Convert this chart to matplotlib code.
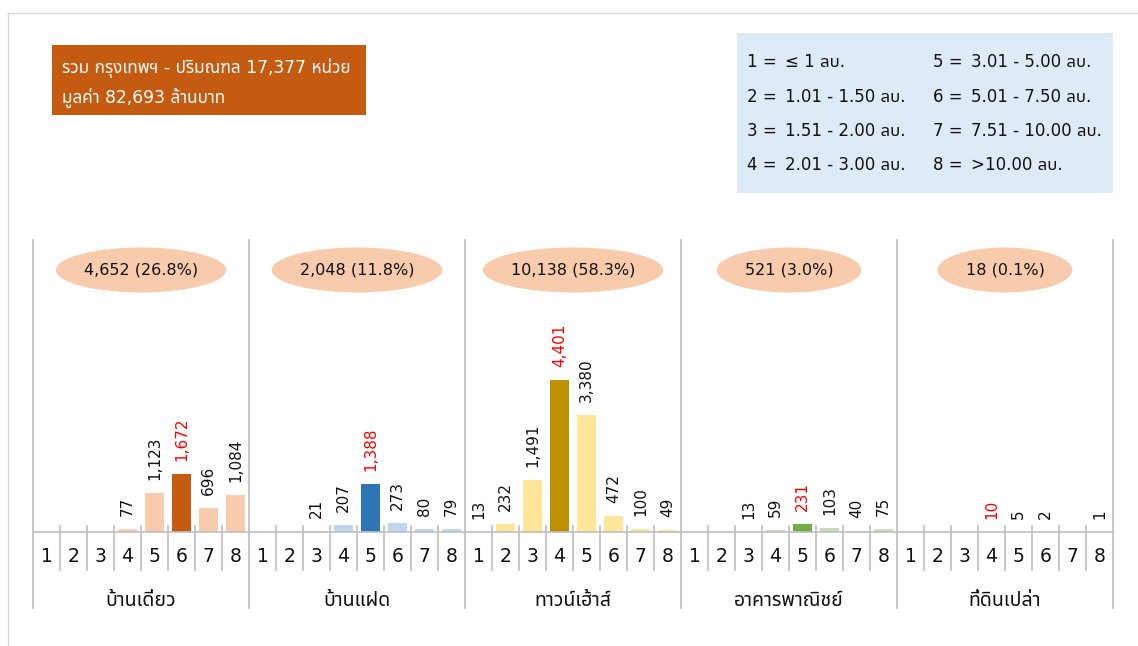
import matplotlib
matplotlib.use("Agg")
import matplotlib.pyplot as plt
from matplotlib import font_manager
from matplotlib.ft2font import FT2Font
from matplotlib.patches import Ellipse, Rectangle
from matplotlib.lines import Line2D

# ---------------------------------------------------------------- data
price_bins = ["1", "2", "3", "4", "5", "6", "7", "8"]
groups = ["บ้านเดี่ยว", "บ้านแฝด", "ทาวน์เฮ้าส์", "อาคารพาณิชย์", "ที่ดินเปล่า"]

detached = [0, 0, 0, 77, 1123, 1672, 696, 1084]
twin_house = [0, 0, 21, 207, 1388, 273, 80, 79]
townhouse = [13, 232, 1491, 4401, 3380, 472, 100, 49]
shophouse = [0, 0, 13, 59, 231, 103, 40, 75]
vacant_land = [0, 0, 0, 10, 5, 2, 0, 1]

group_totals = [4652, 2048, 10138, 521, 18]
group_shares = [26.8, 11.8, 58.3, 3.0, 0.1]

total_units = 17377
total_value_mb = 82693

range_keys = ["1 =", "2 =", "3 =", "4 =", "5 =", "6 =", "7 =", "8 ="]
range_texts = ["≤ 1 ลบ.", "1.01 - 1.50 ลบ.", "1.51 - 2.00 ลบ.", "2.01 - 3.00 ลบ.",
               "3.01 - 5.00 ลบ.", "5.01 - 7.50 ลบ.", "7.51 - 10.00 ลบ.", ">10.00 ลบ."]

series = [detached, twin_house, townhouse, shophouse, vacant_land]
light_colors = ["#F8CBAD", "#BDD7EE", "#FFE699", "#C5E0B4", "#D9D9D9"]
dark_colors = ["#C55A11", "#2E75B6", "#BF9000", "#70AD47", "#7F7F7F"]


# ---------------------------------------------------------------- fonts
def thai_family():
    preferred = ["Noto Sans Thai", "Noto Sans Thai UI", "Noto Sans Thai Looped", "Loma",
                 "Garuda", "Sarabun", "Tahoma", "Norasi", "Kinnari", "Waree",
                 "Tlwg Typo", "Umpush", "Laksaman"]
    found = {}
    for f in font_manager.fontManager.ttflist:
        try:
            cmap = FT2Font(f.fname).get_charmap()
        except Exception:
            continue
        if 0x0E01 in cmap and 0x0E48 in cmap:
            found.setdefault(f.name, f.fname)
    for name in preferred:
        if name in found:
            return name
    return next(iter(found), None)


thai = thai_family()
FAMILY = ["DejaVu Sans"] + ([thai] if thai else [])
plt.rcParams["font.family"] = FAMILY

W, H = 1138, 646
fig = plt.figure(figsize=(W / 100, H / 100), dpi=100)


def fx(px):
    return px / W


def fy(py):
    return 1 - py / H


# page frame
fig.add_artist(Line2D([fx(8), 1], [fy(13), fy(13)], color="#D9D9D9", lw=1.0))
fig.add_artist(Line2D([fx(8), fx(8)], [fy(13), 0], color="#D9D9D9", lw=1.0))

# ---------------------------------------------------------------- summary box
fig.add_artist(Rectangle((fx(52), fy(115)), fx(366) - fx(52), fy(45) - fy(115),
                         transform=fig.transFigure, facecolor="#C55A11", edgecolor="none"))
fig.text(fx(62), fy(68), f"รวม กรุงเทพฯ - ปริมณฑล {total_units:,} หน่วย",
         color="white", fontsize=12.3, va="center", ha="left")
fig.text(fx(62), fy(98), f"มูลค่า {total_value_mb:,} ล้านบาท",
         color="white", fontsize=12.3, va="center", ha="left")

# ---------------------------------------------------------------- price range key
fig.add_artist(Rectangle((fx(737), fy(193)), fx(1113) - fx(737), fy(33) - fy(193),
                         transform=fig.transFigure, facecolor="#DEEBF7", edgecolor="none"))
row_y = [62, 97, 131, 165]
for i, (k, t) in enumerate(zip(range_keys, range_texts)):
    col, row = divmod(i, 4)
    kx = 747 if col == 0 else 933
    vx = 785 if col == 0 else 971
    fig.text(fx(kx), fy(row_y[row]), k, fontsize=12, va="center", ha="left", color="#111111")
    fig.text(fx(vx), fy(row_y[row]), t, fontsize=12, va="center", ha="left", color="#111111")

# ---------------------------------------------------------------- chart
ax_top, ax_base = 240, 532
ax = fig.add_axes([fx(33), fy(ax_base), fx(1113) - fx(33), fy(ax_top) - fy(ax_base)])
ax_h = ax_base - ax_top
n_bins = len(price_bins)
n_groups = len(groups)
ax.set_xlim(0, n_bins * n_groups)
peak = max(max(s) for s in series)
ax.set_ylim(0, peak * 1.92)
ax.axis("off")

line_c = "#BFBFBF"
trans = ax.get_xaxis_transform()

for g, vals in enumerate(series):
    top = max(vals)
    for b, v in enumerate(vals):
        x = g * n_bins + b + 0.5
        is_top = v == top
        ax.bar(x, v, width=0.74, color=dark_colors[g] if is_top else light_colors[g],
               zorder=2)
        if v > 0:
            ax.annotate(f"{v:,}", (x, v), xytext=(0, 13), textcoords="offset pixels",
                        rotation=90, ha="center", va="bottom", fontsize=11,
                        color="#FF0000" if is_top else "#111111",
                        annotation_clip=False)

# baseline
ax.plot([0, n_bins * n_groups], [0, 0], color=line_c, lw=1.2, zorder=3, clip_on=False)

# bin separators and group separators
for i in range(n_bins * n_groups + 1):
    if i % n_bins == 0:
        ax.plot([i, i], [1.0, -(608 - ax_base) / ax_h], transform=trans, color=line_c,
                lw=1.2, clip_on=False)
    else:
        ax.plot([i, i], [6 / ax_h, -(570 - ax_base) / ax_h], transform=trans, color=line_c,
                lw=1.2, clip_on=False)

# bin numbers and group names
for g in range(n_groups):
    for b, lab in enumerate(price_bins):
        ax.text(g * n_bins + b + 0.5, -(557 - ax_base) / ax_h, lab, transform=trans,
                ha="center", va="center", fontsize=13.5, color="#111111")
    ax.text(g * n_bins + n_bins / 2, -(600 - ax_base) / ax_h, groups[g], transform=trans,
            ha="center", va="center", fontsize=14, color="#111111")

# group totals in ellipses
fig.canvas.draw()
renderer = fig.canvas.get_renderer()
for g in range(n_groups):
    cx = g * n_bins + n_bins / 2
    t = ax.text(cx, 1 - (270 - ax_top) / ax_h, f"{group_totals[g]:,} ({group_shares[g]:.1f}%)",
                transform=trans, ha="center", va="center", fontsize=11.5, color="#111111",
                zorder=6)
    tw = t.get_window_extent(renderer).width
    cxf = ax.transData.transform((cx, 0))[0] / W
    ax.add_patch(Ellipse((cxf, fy(270)), (tw + 56) / W, 45 / H,
                         transform=fig.transFigure, facecolor="#F8CBAD",
                         edgecolor="none", zorder=4, clip_on=False))

fig.savefig("out.png", dpi=100)
